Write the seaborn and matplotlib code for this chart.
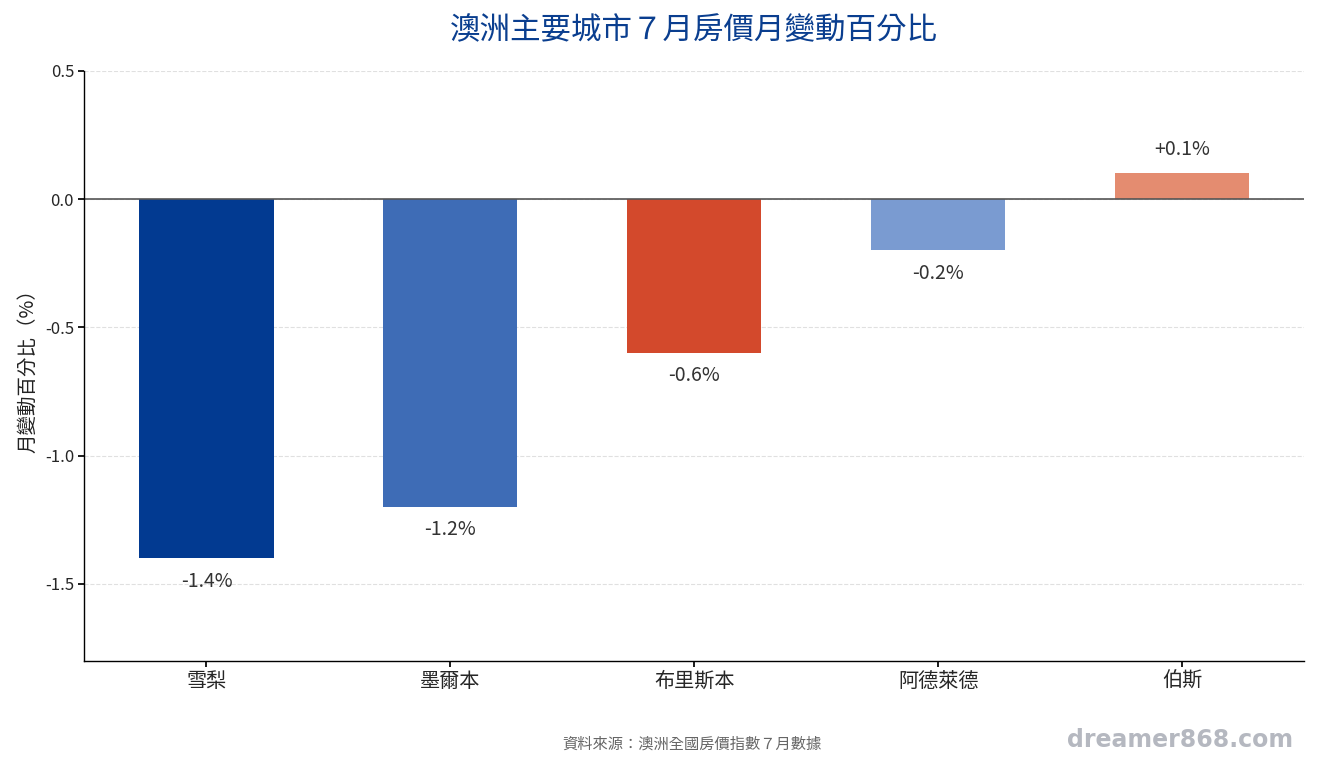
import matplotlib
matplotlib.use("Agg")
import matplotlib.pyplot as plt
import seaborn as sns
import pandas as pd

cities = ["雪梨", "墨爾本", "布里斯本", "阿德萊德", "伯斯"]
changes = [-1.4, -1.2, -0.6, -0.2, 0.1]
colors = ["#023a91", "#3e6cb6", "#d3492c", "#7a9bd1", "#e48c70"]
yticks = [0.5, 0.0, -0.5, -1.0, -1.5]

sns.set_theme(style="white")
plt.rcParams["font.family"] = ["Noto Sans CJK TC", "DejaVu Sans"]
plt.rcParams["axes.unicode_minus"] = False

df = pd.DataFrame({"city": cities, "change": changes})

fig, ax = plt.subplots(figsize=(13.2, 7.7), dpi=100)
fig.subplots_adjust(left=0.064, right=0.988, top=0.908, bottom=0.142)

sns.barplot(data=df, x="city", y="change", hue="city", palette=colors,
            legend=False, width=0.55, saturation=1, linewidth=0, ax=ax)

ax.set_ylim(-1.8, 0.5)
ax.set_xlim(-0.5, 4.5)
ax.set_yticks(yticks)
ax.set_yticklabels([f"{t:.1f}" for t in yticks], fontsize=12)
ax.tick_params(axis="x", labelsize=14.5, length=4, color="black", bottom=True)
ax.tick_params(axis="y", length=4, color="black", left=True)
ax.yaxis.grid(True, linestyle="--", color="#e0e0e0", linewidth=0.8)
ax.set_axisbelow(True)
ax.axhline(0, color="#555555", linewidth=1.2)

for s in ["top", "right"]:
    ax.spines[s].set_visible(False)
for s in ["left", "bottom"]:
    ax.spines[s].set_color("black")
    ax.spines[s].set_linewidth(1)

for i, v in enumerate(changes):
    label = f"+{v:.1f}%" if v > 0 else f"{v:.1f}%"
    if v > 0:
        ax.annotate(label, (i, v), xytext=(0, 10), textcoords="offset points",
                    ha="center", va="bottom", fontsize=14, color="#333333")
    else:
        ax.annotate(label, (i, v), xytext=(0, -9), textcoords="offset points",
                    ha="center", va="top", fontsize=14, color="#333333")

ax.set_xlabel("")
ax.set_ylabel("月變動百分比（%）", fontsize=14, color="#222222", labelpad=5)
ax.set_title("澳洲主要城市７月房價月變動百分比", fontsize=22, color="#0a3e8f", pad=23)

fig.text(0.524, 0.028, "資料來源：澳洲全國房價指數７月數據", ha="center", fontsize=11, color="#666666")
fig.text(0.98, 0.03, "dreamer868.com", ha="right", fontsize=17, fontweight="bold",
         color="#b5b8c0", family=["DejaVu Sans"])

fig.savefig("out.png", dpi=100)
